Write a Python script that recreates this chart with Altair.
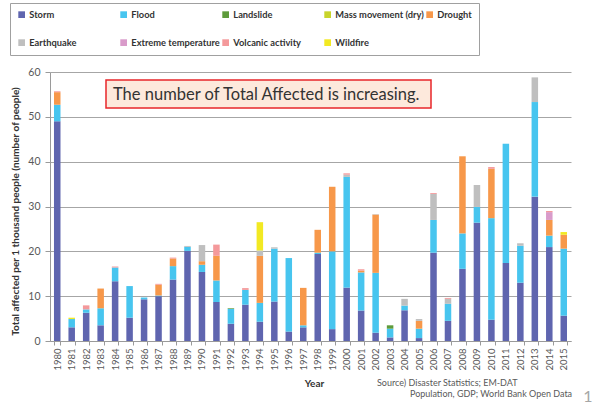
import altair as alt
import pandas as pd

# Total affected per 1,000 people, by disaster type, 1980-2015
years = list(range(1980, 2016))

categories = [
    "Storm", "Flood", "Landslide", "Mass movement (dry)", "Drought",
    "Earthquake", "Extreme temperature", "Volcanic activity", "Wildfire",
]
colors = [
    "#5F65AF", "#47C5EF", "#5E9B3B", "#C8D42B", "#F7984A",
    "#BFBFBF", "#D99BCA", "#F4999B", "#F2E923",
]

storm = [49.0, 3.05, 6.3, 3.5, 13.3, 5.2, 9.3, 10.0, 13.7, 20.1,
         15.4, 8.7, 3.85, 8.1, 4.3, 8.8, 2.1, 3.05, 19.4, 2.65,
         11.9, 6.8, 1.85, 0.8, 6.85, 0.65, 19.7, 4.5, 16.1, 26.4,
         4.75, 17.4, 13.0, 32.2, 20.95, 5.65]
flood = [3.7, 1.85, 0.75, 3.8, 3.1, 7.05, 0.4, 0.15, 3.0, 0.9,
         1.6, 4.8, 3.3, 3.3, 4.2, 11.8, 16.4, 0.45, 0.3, 17.35,
         24.7, 8.5, 13.35, 1.95, 1.05, 2.1, 7.3, 3.8, 7.9, 3.5,
         22.65, 26.6, 8.25, 21.1, 2.55, 14.95]
landslide = [0, 0, 0, 0, 0, 0, 0, 0, 0, 0,
             0, 0, 0.15, 0, 0, 0, 0, 0, 0, 0,
             0, 0, 0, 0.75, 0, 0, 0, 0, 0, 0,
             0, 0, 0, 0, 0, 0]
mass_movement = [0] * 36
drought = [2.8, 0, 0, 4.4, 0, 0, 0, 2.4, 1.7, 0,
           0.8, 5.5, 0, 0, 10.5, 0, 0, 8.35, 5.1, 14.4,
           0, 0.4, 13.0, 0, 0, 1.75, 0, 0, 17.2, 0,
           11.0, 0, 0, 0, 3.5, 3.1]
earthquake = [0, 0, 0, 0, 0, 0, 0, 0, 0, 0.2,
              3.6, 0, 0, 0, 1.2, 0.3, 0, 0, 0, 0,
              0.5, 0, 0.1, 0, 1.5, 0.4, 5.8, 1.1, 0, 4.9,
              0, 0, 0.55, 5.5, 0, 0]
extreme_temp = [0] * 34 + [1.75, 0]
volcanic = [0.2, 0, 0.9, 0, 0.2, 0, 0, 0.2, 0.2, 0,
            0, 2.5, 0, 0.4, 0, 0, 0, 0, 0, 0,
            0.3, 0.3, 0, 0, 0, 0, 0.2, 0.2, 0, 0,
            0.4, 0, 0, 0, 0.25, 0]
wildfire = [0, 0.3, 0, 0, 0, 0, 0, 0, 0, 0,
            0, 0, 0, 0, 6.3, 0, 0, 0, 0, 0,
            0, 0, 0, 0, 0, 0, 0, 0, 0, 0,
            0, 0, 0, 0, 0, 0.6]

series = [storm, flood, landslide, mass_movement, drought,
          earthquake, extreme_temp, volcanic, wildfire]

rows = []
for k, (cat, vals) in enumerate(zip(categories, series)):
    for yr, v in zip(years, vals):
        if v > 0:
            rows.append({"Year": str(yr), "Type": cat, "Value": v, "Order": k})
df = pd.DataFrame(rows)

FONT = "Lato"
GRAY = "#595959"

bars = alt.Chart(df).mark_bar().encode(
    x=alt.X(
        "Year:N",
        sort=[str(y) for y in years],
        scale=alt.Scale(domain=[str(y) for y in years], paddingInner=0.55, paddingOuter=0.275),
        axis=alt.Axis(
            title="Year", labelAngle=-90, labelFontSize=9.5, labelColor=GRAY,
            labelPadding=3, tickBand="extent", tickSize=4, tickColor="#9a9a9a",
            domainColor="#9a9a9a", titleFontSize=10, titleFontWeight="bold",
            titleColor="#333333", titleX=264, titleY=42, titleBaseline="middle",
            titleAlign="center", grid=False,
        ),
    ),
    y=alt.Y(
        "sum(Value):Q",
        stack="zero",
        scale=alt.Scale(domain=[0, 60], nice=False),
        axis=alt.Axis(
            title="Total affected per 1 thousand people (number of people)",
            values=[0, 10, 20, 30, 40, 50, 60], labelFontSize=10.5, labelColor=GRAY,
            labelPadding=5, tickSize=5, tickColor="#9a9a9a", domainColor="#9a9a9a",
            gridColor="#a6a6a6", gridWidth=1, titleFontSize=10,
            titleFontWeight="bold", titleColor="#333333", titleAngle=-90,
            titleX=-35, titleY=139, titleAlign="center", titleBaseline="middle",
        ),
    ),
    color=alt.Color(
        "Type:N",
        scale=alt.Scale(domain=categories, range=colors),
        legend=alt.Legend(
            title=None, orient="none", legendX=-40, legendY=-69, columns=5,
            direction="horizontal", symbolType="square", symbolSize=45,
            symbolStrokeWidth=0, labelFontSize=9.3, labelFontWeight="bold",
            labelColor="#333333", labelLimit=200, gridAlign="all",
            columnPadding=1, rowPadding=18, padding=7, strokeColor="#a0a0a0",
            fillColor="#ffffff", labelOffset=3,
        ),
    ),
    order=alt.Order("Order:Q"),
)

note = pd.DataFrame({"label": ["The number of Total Affected is increasing."]})
box = alt.Chart(note).mark_rect(
    fill="#FDE9DC", stroke="#E8262A", strokeWidth=1.5
).encode(
    x=alt.value(56), x2=alt.value(381), y=alt.value(8), y2=alt.value(36)
)
box_text = alt.Chart(note).mark_text(
    font=FONT, fontSize=16.5, color="#333333", align="left", baseline="middle"
).encode(x=alt.value(63), y=alt.value(23), text="label:N")

source = pd.DataFrame({
    "line": ["Source) Disaster Statistics; EM-DAT",
             "Population, GDP; World Bank Open Data"],
    "px": [327, 360],
    "py": [311, 322],
})
source_text = alt.Chart(source).mark_text(
    font=FONT, fontSize=9, color=GRAY, align="left", baseline="middle"
).encode(
    x=alt.X("px:Q", scale=None), y=alt.Y("py:Q", scale=None), text="line:N"
)

page = alt.Chart(pd.DataFrame({"n": ["1"]})).mark_text(
    font=FONT, fontSize=16, color="#a6a6a6", align="center", baseline="middle"
).encode(x=alt.value(538), y=alt.value(325), text="n:N")

chart = alt.layer(bars, box, box_text, source_text, page).properties(
    width=521,
    height=269,
    autosize=alt.AutoSizeParams(type="none"),
    padding={"left": 50, "top": 72, "right": 24, "bottom": 64},
).configure(
    font=FONT,
).configure_view(
    stroke=None,
)

chart.save("out.html", embed_options={"renderer": "svg", "actions": False})
